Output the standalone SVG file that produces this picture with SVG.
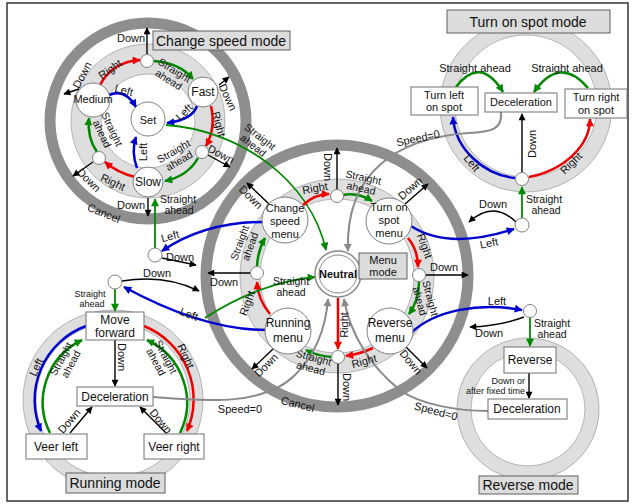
<svg xmlns="http://www.w3.org/2000/svg" width="632" height="504" viewBox="0 0 632 504">
<defs>
<style>
.t{font-family:"Liberation Sans",Arial,sans-serif;font-size:11px;fill:#111;text-anchor:middle}
.two{font-size:10.5px}
.sm{font-size:9px}
.nd{font-size:12px}
.ttl{font-size:14px}
.dr{fill:none;stroke:#8e8e8e;stroke-width:11}
.band{fill:none;stroke:#dedede}
.edge{fill:none;stroke:#a3a3a3;stroke-width:0.8}
.n{fill:#fff;stroke:#808080;stroke-width:1}
.bx{fill:#fff;stroke:#707070;stroke-width:1}
.lb{fill:#dcdcdc;stroke:#606060;stroke-width:1}
.r{fill:none;stroke:#ee0000;stroke-width:2.5;marker-end:url(#mr)}
.b{fill:none;stroke:#0000d0;stroke-width:2.5;marker-end:url(#mb)}
.g{fill:none;stroke:#008800;stroke-width:2.5;marker-end:url(#mg)}
.g2{fill:none;stroke:#008800;stroke-width:1.8;marker-end:url(#mg)}
.k{fill:none;stroke:#000;stroke-width:1.4;marker-end:url(#mk)}
.gy{fill:none;stroke:#8a8a8a;stroke-width:2;marker-end:url(#my)}
</style>
<marker id="mr" viewBox="0 0 10 10" refX="9" refY="5" markerWidth="9" markerHeight="8" markerUnits="userSpaceOnUse" orient="auto"><path d="M0,0L10,5L0,10z" fill="#ee0000"/></marker>
<marker id="mb" viewBox="0 0 10 10" refX="9" refY="5" markerWidth="9" markerHeight="8" markerUnits="userSpaceOnUse" orient="auto"><path d="M0,0L10,5L0,10z" fill="#0000d0"/></marker>
<marker id="mg" viewBox="0 0 10 10" refX="9" refY="5" markerWidth="9" markerHeight="8" markerUnits="userSpaceOnUse" orient="auto"><path d="M0,0L10,5L0,10z" fill="#008800"/></marker>
<marker id="mk" viewBox="0 0 10 10" refX="9" refY="5" markerWidth="8" markerHeight="7" markerUnits="userSpaceOnUse" orient="auto"><path d="M0,0L10,5L0,10z" fill="#000"/></marker>
<marker id="my" viewBox="0 0 10 10" refX="9" refY="5" markerWidth="9" markerHeight="8" markerUnits="userSpaceOnUse" orient="auto"><path d="M0,0L10,5L0,10z" fill="#8a8a8a"/></marker>
</defs>
<rect x="7" y="3" width="621" height="498" fill="#fff" stroke="#333" stroke-width="1.5"/>

<g id="rings">
  <circle cx="526" cy="106" r="78.5" class="band" stroke-width="15"/>
  <circle cx="526" cy="106" r="71" class="edge"/>
  <circle cx="526" cy="106" r="86" class="edge"/>
  <circle cx="113" cy="400" r="83.5" class="band" stroke-width="13"/>
  <circle cx="113" cy="400" r="77" class="edge"/>
  <circle cx="113" cy="400" r="90" class="edge"/>
  <circle cx="528" cy="409" r="64" class="band" stroke-width="14"/>
  <circle cx="528" cy="409" r="57" class="edge"/>
  <circle cx="528" cy="409" r="71" class="edge"/>
  <circle cx="148" cy="121" r="62" class="band" stroke-width="30"/>
  <circle cx="148" cy="121" r="47" class="edge"/>
  <circle cx="148" cy="121" r="77" class="edge"/>
  <circle cx="337" cy="276" r="87" class="band" stroke-width="20"/>
  <circle cx="337" cy="276" r="77" class="edge"/>
  <circle cx="337" cy="276" r="97" class="edge"/>
  <circle cx="148" cy="121" r="98" class="dr"/>
  <circle cx="337" cy="276" r="131" class="dr"/>
  <text class="t" font-size="13" transform="translate(104,213) rotate(22)" y="4">Cancel</text>
  <text class="t" font-size="14" transform="translate(298,403) rotate(14)" y="5">Cancel</text>
</g>

<g id="connectors">
  <path class="r" d="M100,85 Q112,62 140,60"/>
  <path class="g" d="M154,61 Q180,63 193,79"/>
  <path class="b" d="M109,95 Q125,88 136,107"/>
  <path class="r" d="M211,106 Q216,128 206,146"/>
  <path class="b" d="M197,106 Q192,120 167,123"/>
  <path class="g" d="M198,158 Q188,176 165,181"/>
  <path class="r" d="M135,177 Q118,173 105,162"/>
  <path class="b" d="M137,168 Q131,152 136,137"/>
  <path class="g" d="M97,152 Q87,138 89,118"/>
  <path class="k" d="M147,55 L147,28"/>
  <path class="k" d="M79,89 L64,94"/>
  <path class="k" d="M219,85 L229,77"/>
  <path class="k" d="M208,155 L230,167"/>
  <path class="k" d="M93,162 L73,176"/>
  <path class="k" d="M148,198 L148,216"/>
  <path class="g2" d="M166,125 C240,130 310,180 326,250"/>
  <path class="g2" d="M155,248 L155,199"/>
  <path class="b" d="M263,222 C225,222 190,232 162,251"/>
  <path class="k" d="M162,258 L196,265"/>
  <path class="k" d="M122,281 Q165,274 199,291"/>
  <path class="b" d="M266,330 C220,330 170,312 124,287"/>
  <path class="g2" d="M115,289 L115,311"/>
  <path class="g2" d="M522,218 L522,187"/>
  <path class="k" d="M516,222 Q493,200 469,222"/>
  <path class="b" d="M411,226 C440,245 480,240 514,229"/>
  <path class="b" d="M411,333 C435,310 480,302 522,310"/>
  <path class="k" d="M524,317 Q500,326 470,327"/>
  <path class="g2" d="M530,318 L530,346"/>
  <path class="r" d="M303,205 Q315,194 329,194"/>
  <path class="g" d="M343,195 Q358,192 372,201"/>
  <path class="r" d="M408,238 Q418,250 418,267"/>
  <path class="g" d="M419,282 Q419,300 409,314"/>
  <path class="r" d="M373,348 Q360,354 346,356"/>
  <path class="g" d="M331,357 Q318,356 306,350"/>
  <path class="r" d="M270,314 Q258,300 257,282"/>
  <path class="g" d="M257,266 Q258,250 265,238"/>
  <path class="r" d="M338,298 L338,349"/>
  <path class="k" d="M337,189 L337,148"/>
  <path class="k" d="M426,275 L468,275"/>
  <path class="k" d="M338,364 L338,405"/>
  <path class="k" d="M250,273 L208,273"/>
  <path class="k" d="M269,204 L247,183"/>
  <path class="k" d="M405,204 L428,184"/>
  <path class="k" d="M273,349 L252,369"/>
  <path class="k" d="M406,347 L427,368"/>
  <path class="g2" d="M205,318 C240,295 280,280 315,277"/>
  <path class="g" d="M456,87 Q480,55 503,92"/>
  <path class="g" d="M588,88 Q560,55 534,92"/>
  <path class="k" d="M522,172 L522,114"/>
  <path class="b" d="M515,178 C485,175 455,150 453,117"/>
  <path class="r" d="M529,177 C565,170 590,145 590,119"/>
  <path class="k" d="M115,340 L115,386"/>
  <path class="k" d="M70,433 L92,407"/>
  <path class="k" d="M166,433 L140,407"/>
  <path class="b" d="M86,326 A79,79 0 0,0 41,431"/>
  <path class="r" d="M144,326 A79,79 0 0,1 187,431"/>
  <path class="g" d="M50,433 A69,69 0 0,1 82,340"/>
  <path class="g" d="M180,433 A69,69 0 0,0 147,340"/>
  <path class="k" d="M529,373 L529,398"/>
  <path class="gy" d="M501,112 C503,130 490,132 468,133 C400,138 345,170 348,251"/>
  <path class="gy" d="M153,397 C210,402 265,405 295,375 C318,352 326,325 328,299"/>
  <path class="gy" d="M488,411 C460,411 420,405 400,390 C372,368 350,335 344,299"/>
</g>

<g id="connector-labels">
  <text class="t" transform="translate(110,69) rotate(-35)" y="4">Right</text>
  <text class="t two" transform="translate(171,76) rotate(32)"><tspan x="0" y="-3">Straight</tspan><tspan x="0" y="8">ahead</tspan></text>
  <text class="t" transform="translate(124,90) rotate(15)" y="4">Left</text>
  <text class="t" transform="translate(219,124) rotate(75)" y="4">Right</text>
  <text class="t" transform="translate(184,112) rotate(-45)" y="4">Left</text>
  <text class="t two" transform="translate(177,157) rotate(-30)"><tspan x="0" y="-3">Straight</tspan><tspan x="0" y="8">ahead</tspan></text>
  <text class="t" transform="translate(113,182) rotate(25)" y="4">Right</text>
  <text class="t" transform="translate(143,152) rotate(-90)" y="4">Left</text>
  <text class="t two" transform="translate(106,132) rotate(65)"><tspan x="0" y="-3">Straight</tspan><tspan x="0" y="8">ahead</tspan></text>
  <text class="t" x="131" y="42">Down</text>
  <text class="t" transform="translate(82,75) rotate(-62)" y="4">Down</text>
  <text class="t" transform="translate(228,97) rotate(65)" y="4">Down</text>
  <text class="t" transform="translate(221,154) rotate(28)" y="4">Down</text>
  <text class="t" transform="translate(89,180) rotate(45)" y="4">Down</text>
  <text class="t" x="131" y="209">Down</text>
  <text class="t two" transform="translate(256,142) rotate(38)"><tspan x="0" y="-3">Straight</tspan><tspan x="0" y="8">ahead</tspan></text>

  <text class="t two"><tspan x="178" y="203">Straight</tspan><tspan x="179" y="214">ahead</tspan></text>
  <text class="t" transform="translate(170,236) rotate(-15)" y="4">Left</text>
  <text class="t" x="180" y="261">Down</text>

  <text class="t" x="157" y="277">Down</text>
  <text class="t" transform="translate(189,314) rotate(20)" y="4">Left</text>
  <text class="t sm"><tspan x="90" y="297">Straight</tspan><tspan x="92" y="307">ahead</tspan></text>

  <text class="t two"><tspan x="544" y="203">Straight</tspan><tspan x="546" y="214">ahead</tspan></text>
  <text class="t" x="493" y="208">Down</text>
  <text class="t" transform="translate(489,243) rotate(-12)" y="4">Left</text>

  <text class="t" x="497" y="305">Left</text>
  <text class="t" x="489" y="337">Down</text>
  <text class="t two"><tspan x="552" y="327">Straight</tspan><tspan x="552" y="338">ahead</tspan></text>

  <text class="t" transform="translate(315,188) rotate(-10)" y="4">Right</text>
  <text class="t two" transform="translate(362,184) rotate(12)"><tspan x="0" y="-3">Straight</tspan><tspan x="0" y="8">ahead</tspan></text>
  <text class="t" transform="translate(425,246) rotate(70)" y="4">Right</text>
  <text class="t two" transform="translate(424,300) rotate(75)"><tspan x="0" y="-3">Straight</tspan><tspan x="0" y="8">ahead</tspan></text>
  <text class="t" transform="translate(364,361) rotate(-15)" y="4">Right</text>
  <text class="t two" transform="translate(312,364) rotate(15)"><tspan x="0" y="-3">Straight</tspan><tspan x="0" y="8">ahead</tspan></text>
  <text class="t" transform="translate(247,303) rotate(-70)" y="4">Right</text>
  <text class="t two" transform="translate(246,245) rotate(-70)"><tspan x="0" y="-3">Straight</tspan><tspan x="0" y="8">ahead</tspan></text>
  <text class="t" transform="translate(344,325) rotate(-90)" y="4">Right</text>
  <text class="t" transform="translate(328,167) rotate(90)" y="4">Down</text>
  <text class="t" x="444" y="271">Down</text>
  <text class="t" transform="translate(347,387) rotate(90)" y="4">Down</text>
  <text class="t" x="224" y="286">Down</text>
  <text class="t" transform="translate(251,197) rotate(45)" y="4">Down</text>
  <text class="t" transform="translate(410,188) rotate(-42)" y="4">Down</text>
  <text class="t" transform="translate(266,365) rotate(-45)" y="4">Down</text>
  <text class="t" transform="translate(411,362) rotate(50)" y="4">Down</text>
  <text class="t two"><tspan x="291" y="285">Straight</tspan><tspan x="291" y="296">ahead</tspan></text>

  <text class="t" x="475" y="72">Straight ahead</text>
  <text class="t" x="567" y="72">Straight ahead</text>
  <text class="t" transform="translate(532,144) rotate(-90)" y="4">Down</text>
  <text class="t" transform="translate(472,163) rotate(50)" y="4">Left</text>
  <text class="t" transform="translate(571,163) rotate(-45)" y="4">Right</text>

  <text class="t" transform="translate(122,357) rotate(90)" y="4">Down</text>
  <text class="t" transform="translate(69,421) rotate(-50)" y="4">Down</text>
  <text class="t" transform="translate(161,421) rotate(50)" y="4">Down</text>
  <text class="t" transform="translate(36,367) rotate(-65)" y="4">Left</text>
  <text class="t" transform="translate(186,356) rotate(65)" y="4">Right</text>
  <text class="t two" transform="translate(67,362) rotate(-62)"><tspan x="0" y="-3">Straight</tspan><tspan x="0" y="8">ahead</tspan></text>
  <text class="t two" transform="translate(160,360) rotate(62)"><tspan x="0" y="-3">Straight</tspan><tspan x="0" y="8">ahead</tspan></text>

  <text class="t sm" x="525" y="384" style="text-anchor:end">Down or</text>
  <text class="t sm" x="525" y="394" style="text-anchor:end">after fixed time</text>

  <text class="t" transform="translate(418,138) rotate(-12)" y="4">Speed=0</text>
  <text class="t" x="240" y="413">Speed=0</text>
  <text class="t" transform="translate(436,411) rotate(15)" y="4">Speed=0</text>
</g>

<g id="cs-set"><circle class="n" cx="148" cy="119" r="17"/><text class="t" font-size="15" x="148" y="124">Set</text></g>
<g id="cs-medium"><circle class="n" cx="93" cy="100" r="17"/><text class="t" font-size="8.5" x="93" y="103">Medium</text></g>
<g id="cs-fast"><circle class="n" cx="203" cy="92" r="15"/><text class="t nd" x="203" y="96">Fast</text></g>
<g id="cs-slow"><circle class="n" cx="148" cy="182" r="15"/><text class="t nd" x="148" y="186">Slow</text></g>
<g id="cs-j1"><circle class="n" cx="147" cy="61" r="6.5"/></g>
<g id="cs-j2"><circle class="n" cx="202" cy="152" r="6.5"/></g>
<g id="cs-j3"><circle class="n" cx="99" cy="158" r="6.5"/></g>
<g id="cs-entry"><circle class="n" cx="155" cy="255" r="7"/></g>
<g id="rn-entry"><circle class="n" cx="115" cy="282" r="7"/></g>
<g id="ts-entry"><circle class="n" cx="522" cy="225" r="7"/></g>
<g id="rv-entry"><circle class="n" cx="530" cy="311" r="6.5"/></g>

<g id="m-change"><circle class="n" cx="285" cy="220" r="23"/><text class="t"><tspan x="285" y="212">Change</tspan><tspan x="285" y="225">speed</tspan><tspan x="285" y="238">menu</tspan></text></g>
<g id="m-turn"><circle class="n" cx="389" cy="221" r="23"/><text class="t"><tspan x="389" y="211">Turn on</tspan><tspan x="389" y="224">spot</tspan><tspan x="389" y="237">menu</tspan></text></g>
<g id="m-running"><circle class="n" cx="288" cy="331" r="23"/><text class="t nd"><tspan x="288" y="327">Running</tspan><tspan x="288" y="342">menu</tspan></text></g>
<g id="m-reverse"><circle class="n" cx="390" cy="331" r="23"/><text class="t nd"><tspan x="390" y="327">Reverse</tspan><tspan x="390" y="342">menu</tspan></text></g>
<g id="m-j-top"><circle class="n" cx="337" cy="196" r="6.5"/></g>
<g id="m-j-right"><circle class="n" cx="419" cy="275" r="6.5"/></g>
<g id="m-j-bottom"><circle class="n" cx="338" cy="357" r="6.5"/></g>
<g id="m-j-left"><circle class="n" cx="257" cy="273" r="6.5"/></g>
<g id="neutral"><circle cx="338" cy="274" r="23" fill="#fff" stroke="#888" stroke-width="1.5"/><circle cx="338" cy="274" r="19" fill="#fff" stroke="#888" stroke-width="1"/><text class="t" font-weight="bold" font-size="10.5" x="338" y="278">Neutral</text></g>
<g id="menu-mode-label"><rect class="lb" x="359" y="253" width="48" height="26"/><text class="t" font-size="11"><tspan x="383" y="264">Menu</tspan><tspan x="383" y="276">mode</tspan></text></g>

<g id="ts-left"><rect class="bx" x="411" y="87" width="67" height="28"/><text class="t"><tspan x="444" y="99">Turn left</tspan><tspan x="444" y="111">on spot</tspan></text></g>
<g id="ts-decel"><rect class="bx" x="485" y="93" width="72" height="19"/><text class="t" x="521" y="106">Deceleration</text></g>
<g id="ts-right"><rect class="bx" x="565" y="89" width="62" height="29"/><text class="t"><tspan x="596" y="101">Turn right</tspan><tspan x="596" y="114">on spot</tspan></text></g>
<g id="ts-j"><circle class="n" cx="522" cy="179" r="6.5"/></g>

<g id="rn-forward"><rect class="bx" x="86" y="312" width="58" height="28"/><text class="t nd"><tspan x="115" y="324">Move</tspan><tspan x="115" y="337">forward</tspan></text></g>
<g id="rn-decel"><rect class="bx" x="77" y="387" width="76" height="19"/><text class="t nd" x="115" y="401">Deceleration</text></g>
<g id="rn-veerleft"><rect class="bx" x="26" y="434" width="61" height="25"/><text class="t nd" x="56" y="451">Veer left</text></g>
<g id="rn-veerright"><rect class="bx" x="144" y="434" width="60" height="25"/><text class="t nd" x="174" y="451">Veer right</text></g>

<g id="rv-reverse"><rect class="bx" x="504" y="347" width="52" height="26"/><text class="t nd" x="530" y="364">Reverse</text></g>
<g id="rv-decel"><rect class="bx" x="488" y="399" width="79" height="20"/><text class="t nd" x="527" y="413">Deceleration</text></g>

<g id="titles">
  <rect class="lb" x="153" y="31" width="137" height="19"/><text class="t ttl" x="221" y="46">Change speed mode</text>
  <rect class="lb" x="447" y="10" width="163" height="23"/><text class="t ttl" x="528" y="27">Turn on spot mode</text>
  <rect class="lb" x="66" y="473" width="99" height="20"/><text class="t ttl" x="115" y="488">Running mode</text>
  <rect class="lb" x="479" y="476" width="99" height="18"/><text class="t ttl" x="528" y="490">Reverse mode</text>
</g>
</svg>
